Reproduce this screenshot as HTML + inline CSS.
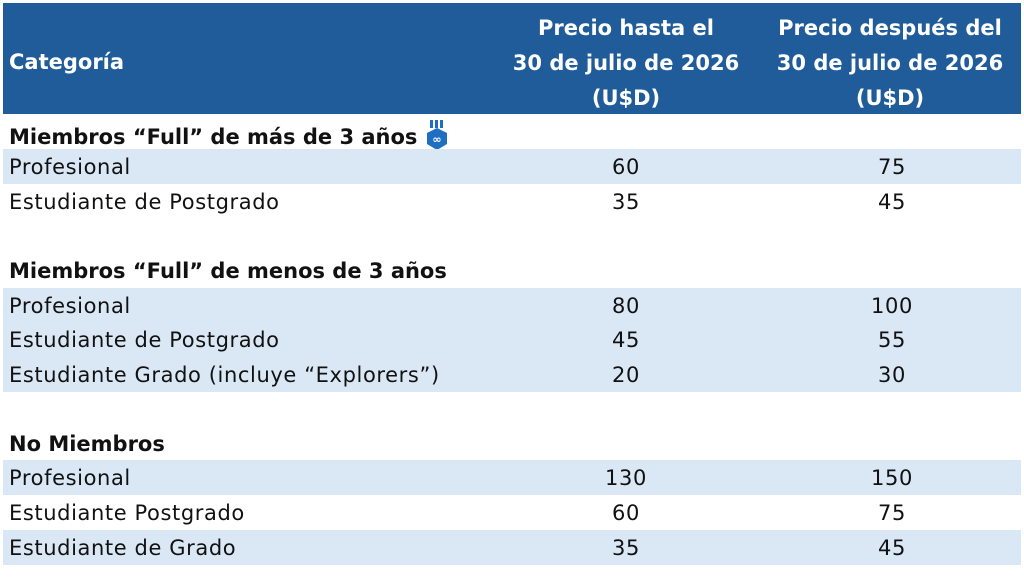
<!DOCTYPE html>
<html><head><meta charset="utf-8"><style>
body{margin:0;width:1024px;height:581px;background:#fff;position:relative;overflow:hidden;font-family:"DejaVu Sans","Liberation Sans",sans-serif;}
.hd{position:absolute;left:3px;top:3px;width:1018px;height:111px;background:#1f5c99;color:#fff;font-weight:bold;font-size:21px;}
.r{position:absolute;left:3px;width:1018px;height:35px;font-size:21px;color:#111;letter-spacing:0.6px;}
.b{background:#dae8f6;}
.r span{position:absolute;top:6px;white-space:nowrap;}
.c1{left:6px}
.c2{left:560px;width:126px;text-align:center}
.c3{left:826px;width:126px;text-align:center}
.h span{font-weight:bold;letter-spacing:0;}
</style></head><body>
<div class="hd">
<div style="position:absolute;left:6px;top:47px">Categoría</div>
<div style="position:absolute;left:480px;width:286px;top:8px;text-align:center;line-height:35px">Precio hasta el<br>30 de julio de 2026<br>(U$D)</div>
<div style="position:absolute;left:744px;width:286px;top:8px;text-align:center;line-height:35px">Precio después del<br>30 de julio de 2026<br>(U$D)</div>
</div>
<div class="r h" style="top:114px"><span class="c1">Miembros “Full” de más de 3 años <svg width="24" height="32" viewBox="0 0 24 32" style="vertical-align:-8px"><rect x="5" y="0" width="3" height="8" fill="#1f6fc0"/><rect x="10" y="0" width="3" height="8" fill="#1f6fc0"/><rect x="15" y="0" width="3" height="8" fill="#1f6fc0"/><polygon points="12,8 22,13 22,24 12,30 2,24 2,13" fill="#1f6fc0"/><text x="12" y="23" font-size="11" fill="#fff" text-anchor="middle">∞</text></svg></span></div>
<div class="r b" style="top:149px"><span class="c1">Profesional</span><span class="c2">60</span><span class="c3">75</span></div>
<div class="r" style="top:184px"><span class="c1">Estudiante de Postgrado</span><span class="c2">35</span><span class="c3">45</span></div>
<div class="r h" style="top:253px"><span class="c1">Miembros “Full” de menos de 3 años</span></div>
<div class="r b" style="top:288px"><span class="c1">Profesional</span><span class="c2">80</span><span class="c3">100</span></div>
<div class="r b" style="top:322px"><span class="c1">Estudiante de Postgrado</span><span class="c2">45</span><span class="c3">55</span></div>
<div class="r b" style="top:357px"><span class="c1">Estudiante Grado (incluye “Explorers”)</span><span class="c2">20</span><span class="c3">30</span></div>
<div class="r h" style="top:426px"><span class="c1">No Miembros</span></div>
<div class="r b" style="top:460px"><span class="c1">Profesional</span><span class="c2">130</span><span class="c3">150</span></div>
<div class="r" style="top:495px"><span class="c1">Estudiante Postgrado</span><span class="c2">60</span><span class="c3">75</span></div>
<div class="r b" style="top:530px"><span class="c1">Estudiante de Grado</span><span class="c2">35</span><span class="c3">45</span></div>
</body></html>
